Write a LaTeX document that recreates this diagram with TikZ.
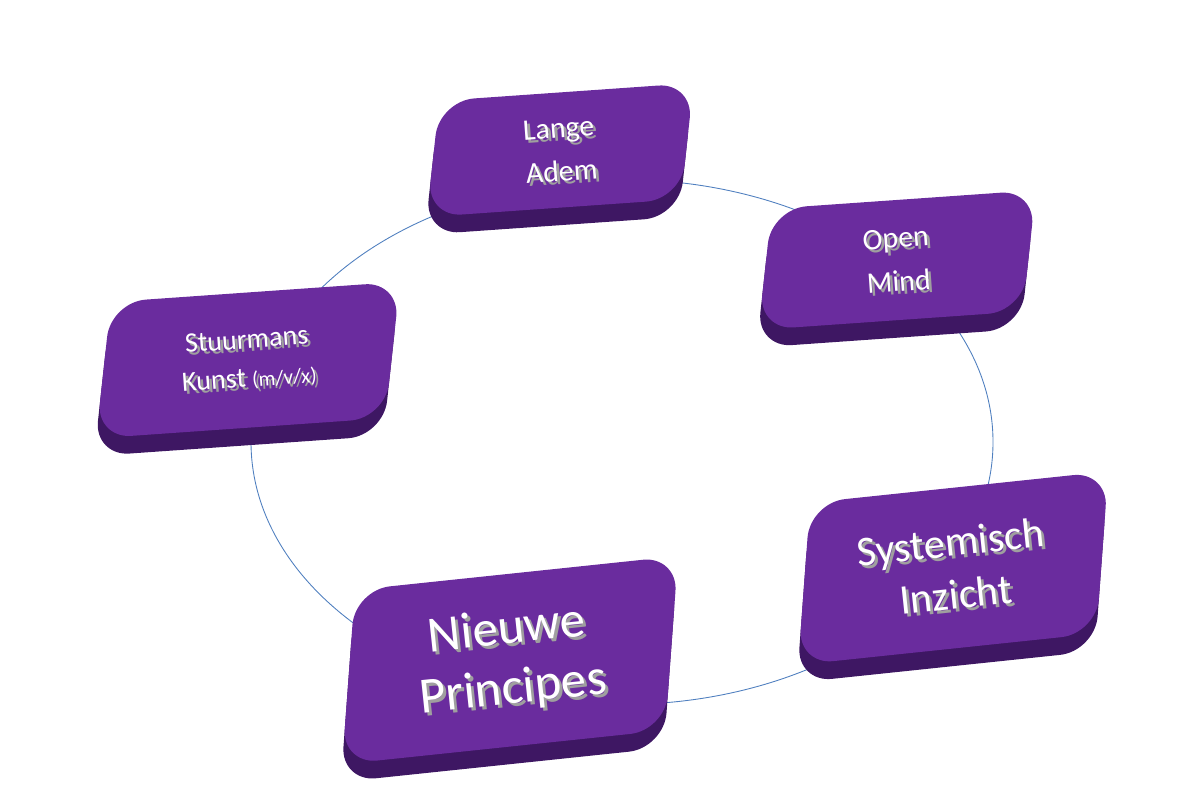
\documentclass[tikz,border=0pt]{standalone}
\usepackage{fontspec}
\setmainfont{Carlito}
\definecolor{ptop}{HTML}{6A2C9E}
\definecolor{pside}{HTML}{3E1763}
\definecolor{ring}{HTML}{4F7FBF}
\tikzset{
 face/.style={fill=ptop,rounded corners=20pt},
 side/.style={fill=pside,rounded corners=20pt},
 lbl/.style={text=white,align=center},
 lblsh/.style={text=gray!75,align=center},
}
\newcommand\pbox[9]{%
 \begin{scope}[shift={(#2*0.02,-#3*0.02)},rotate=#6,xslant=0.18]
 \fill[side] (-#4*0.01,-#5*0.01-0.35) rectangle (#4*0.01,#5*0.01-0.35);
 \fill[face] (-#4*0.01,-#5*0.01) rectangle (#4*0.01,#5*0.01);
 \end{scope}
 \node[lblsh,rotate=#6,font=\fontsize{#7}{#8}\selectfont] at (#2*0.02+0.06,-#3*0.02-0.06) {#9};
 \node[lbl,rotate=#6,font=\fontsize{#7}{#8}\selectfont] (#1) at (#2*0.02,-#3*0.02) {#9};}
\begin{document}
\begin{tikzpicture}
\useasboundingbox (0,0) rectangle (24,-16.12);
\draw[ring,line width=0.5pt] (12.44,-8.84) ellipse [x radius=7.42,y radius=5.25];
\pbox{a}{560}{150}{255}{115}{4}{17}{25}{Lange\\ Adem}
\pbox{b}{897}{260}{265}{120}{4}{17}{25}{Open\\ Mind}
\pbox{c}{248}{360}{290}{135}{4}{16}{22}{Stuurmans\\ Kunst {\fontsize{12}{14}\selectfont(m/v/x)}}
\pbox{d}{953}{568}{300}{160}{6}{24}{30}{Systemisch\\ Inzicht}
\pbox{e}{510}{660}{325}{172}{6}{29}{34}{Nieuwe\\ Principes}
\end{tikzpicture}
\end{document}
